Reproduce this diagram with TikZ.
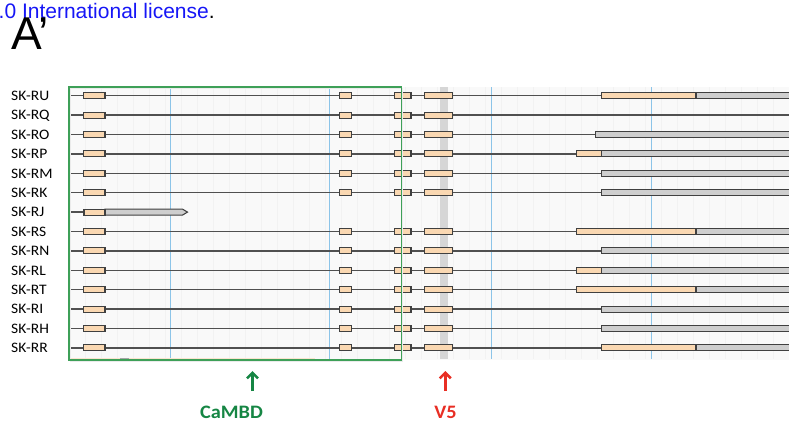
\documentclass[tikz,border=0pt]{standalone}
\usepackage{fontspec}
\setmainfont{Carlito}
\newfontfamily\arialfont{Liberation Sans}
\usepackage{graphicx}
\usetikzlibrary{arrows.meta}

\definecolor{exon}{RGB}{250,216,178}
\definecolor{utr}{RGB}{206,206,206}
\definecolor{edge}{RGB}{64,64,64}
\definecolor{intronc}{RGB}{80,80,80}
\definecolor{gridblue}{RGB}{140,196,232}
\definecolor{boxgreen}{RGB}{62,160,88}
\definecolor{labgreen}{RGB}{22,134,68}
\definecolor{labred}{RGB}{232,46,36}
\definecolor{linkblue}{RGB}{22,22,246}
\definecolor{panel}{RGB}{249,249,249}
\definecolor{stripe}{RGB}{242,242,242}
\definecolor{bandgray}{RGB}{214,214,214}

\begin{document}
\begin{tikzpicture}[x=1pt,y=-1pt,
  exonbox/.style={draw=edge, fill=exon, line width=1.1pt},
  utrbox/.style={draw=edge, fill=utr, line width=1.1pt},
  intron/.style={draw=intronc, line width=1.4pt},
  rowlabel/.style={anchor=base west, inner sep=0pt,
    font=\fontsize{14.5}{14.5}\selectfont},
  marklabel/.style={anchor=base, inner sep=0pt,
    font=\fontsize{19}{19}\selectfont\bfseries},
  markarrow/.style={line width=2.6pt,
    -{Straight Barb[length=5.5pt,width=11pt,line width=2.6pt]}},
  vguide/.style={draw=gridblue, line width=1pt}]
\useasboundingbox (0,0) rectangle (789,423);

% header text
\node[anchor=base west, inner sep=0pt, font=\arialfont\fontsize{21}{21}\selectfont]
  (license) at (-1.5,18) {\textcolor{linkblue}{.0 International license}.};
\node[anchor=base west, inner sep=0pt, font=\arialfont\fontsize{46}{46}\selectfont]
  (panel) at (11,49) {A’};

% alignment panel background with faint column stripes
\fill[panel] (69,87) rectangle (789,360);
\foreach \x in {85,101,...,789} \draw[stripe, line width=0.6pt] (\x,87) -- (\x,359);
\fill[bandgray] (440,87) rectangle (448.3,359);
\foreach \x in {170,329.5,491,651.5} \draw[vguide] (\x,87) -- (\x,359);

% faint residue at the panel foot
\draw[exon!60!panel, line width=1pt] (69,358) -- (315,358);
\fill[gray!70] (119.5,358) rectangle (129,360);

% gene models
\foreach \name/\i/\kind in {RU/0/a, RQ/1/n, RO/2/b, RP/3/c, RM/4/d, RK/5/d,
    RJ/6/j, RS/7/e, RN/8/d, RL/9/c, RT/10/e, RI/11/d, RH/12/d, RR/13/a} {
  \pgfmathsetmacro{\y}{95.7+19.4*\i}
  \node[rowlabel] (l\name) at (11,\y+4.8) {\scalebox{1.07}[1]{SK-\name}};
  \coordinate (s\name) at (69,\y);
  \if\kind j
    \coordinate (e\name) at (84,\y);
    \draw[intron] (s\name) -- (e\name);
    \filldraw[utrbox] (105,\y-3) -- (182.5,\y-3) -- (187.5,\y) -- (182.5,\y+3)
      -- (105,\y+3) -- cycle;
    \filldraw[exonbox] (84,\y-3) rectangle (105,\y+3);
  \else
    \coordinate (e\name) at (795,\y);
    \draw[intron] (s\name) -- (e\name);
    \filldraw[exonbox] (83.5,\y-3) rectangle (105,\y+3);
    \filldraw[exonbox] (339.5,\y-3) rectangle (351.7,\y+3);
    \filldraw[exonbox] (394.5,\y-3) rectangle (411,\y+3);
    \filldraw[exonbox] (424.5,\y-3) rectangle (452.3,\y+3);
    \if\kind a
      \filldraw[utrbox] (696,\y-3) rectangle (795,\y+3);
      \filldraw[exonbox] (601.7,\y-3) rectangle (696,\y+3);
    \fi
    \if\kind b
      \filldraw[utrbox] (595.7,\y-3) rectangle (795,\y+3);
    \fi
    \if\kind c
      \filldraw[utrbox] (601.7,\y-3) rectangle (795,\y+3);
      \filldraw[exonbox] (576.7,\y-3) rectangle (601.7,\y+3);
    \fi
    \if\kind d
      \filldraw[utrbox] (601.7,\y-3) rectangle (795,\y+3);
    \fi
    \if\kind e
      \filldraw[utrbox] (696,\y-3) rectangle (795,\y+3);
      \filldraw[exonbox] (576.7,\y-3) rectangle (696,\y+3);
    \fi
  \fi
}

% CaMBD region frame
\draw[black!8, line width=1.2pt] (70.5,88.5) rectangle (402.5,361.5);
\draw[boxgreen, line width=1.3pt] (69,87) rectangle (401.3,360);

% markers
\node[marklabel, text=labgreen] (cambd) at (231.5,418) {\scalebox{1.07}[1]{CaMBD}};
\node[marklabel, text=labred] (vfive) at (445.5,418) {\scalebox{1.07}[1]{V5}};
\coordinate (cambdfoot) at (252.5,391);
\coordinate (cambdtip) at (252.5,371);
\coordinate (vfivefoot) at (445.3,391);
\coordinate (vfivetip) at (445.3,371);
\draw[markarrow, labgreen] (cambdfoot) -- (cambdtip);
\draw[markarrow, labred] (vfivefoot) -- (vfivetip);
\end{tikzpicture}
\end{document}
